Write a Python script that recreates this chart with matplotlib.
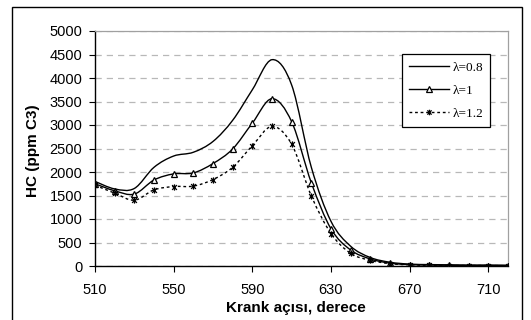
# -*- coding: utf-8 -*-
# hc_krank_acisi.py

import numpy as np
import matplotlib
matplotlib.use('Agg')
import matplotlib.pyplot as plt
from matplotlib.path import Path
from matplotlib.patches import PathPatch, Rectangle
from matplotlib.lines import Line2D


#%% Data

krank = [510, 520, 530, 540, 550, 560, 570, 580, 590, 600, 610,
         620, 630, 640, 650, 660, 670, 680, 690, 700, 710, 720]

hc_lambda_08 = [1800, 1640, 1650, 2100, 2340, 2420, 2650, 3100, 3750, 4390,
                3850, 2100, 950, 420, 180, 80, 40, 30, 25, 20, 20, 15]
hc_lambda_10 = [1750, 1600, 1530, 1830, 1960, 1980, 2180, 2490, 3040, 3560,
                3070, 1770, 790, 340, 150, 60, 30, 20, 15, 10, 10, 10]
hc_lambda_12 = [1720, 1550, 1400, 1620, 1690, 1700, 1840, 2100, 2560, 2970,
                2590, 1490, 690, 270, 120, 50, 25, 15, 10, 10, 10, 5]

labels = ['\u03bb=0.8', '\u03bb=1', '\u03bb=1.2']
x_ticks = [510, 550, 590, 630, 670, 710]
y_ticks = list(range(0, 5001, 500))


#%% Functions

def smooth_path(x, y):
    '''Excel style smoothed line as a cubic Bezier path.'''
    pts = np.column_stack([x, y]).astype(float)
    n = len(pts)
    verts = [pts[0]]
    codes = [Path.MOVETO]
    for i in range(n - 1):
        p0 = pts[i - 1] if i > 0 else pts[i]
        p1 = pts[i]
        p2 = pts[i + 1]
        p3 = pts[i + 2] if i + 2 < n else pts[i + 1]
        c1 = p1 + (p2 - p0) / 6.0
        c2 = p2 - (p3 - p1) / 6.0
        verts += [c1, c2, p2]
        codes += [Path.CURVE4] * 3
    return Path(verts, codes)


star = Path([(-1, -1), (1, 1), (-1, 1), (1, -1), (0, -1.3), (0, 1.3)],
            [Path.MOVETO, Path.LINETO, Path.MOVETO, Path.LINETO,
             Path.MOVETO, Path.LINETO])


#%% Plot

plt.rcParams['font.family'] = 'Liberation Sans'

fig = plt.figure(figsize=(5.31, 3.2), dpi=100)
ax = fig.add_axes([95 / 531, 54 / 320, 413 / 531, 235 / 320])

styles = [
    dict(ls='-', marker=None, mfc='none'),
    dict(ls='-', marker='^', mfc='white'),
    dict(ls=(0, (2, 2)), marker=star, mfc='black'),
]
series = [hc_lambda_08, hc_lambda_10, hc_lambda_12]

handles = []
for vals, st, lab in zip(series, styles, labels):
    ax.add_patch(PathPatch(smooth_path(krank, vals), fill=False,
                           edgecolor='black', lw=1.0, linestyle=st['ls'],
                           zorder=3))
    if st['marker'] is not None:
        ax.plot(krank, vals, ls='none', marker=st['marker'], ms=4.5,
                mfc=st['mfc'], mec='black', mew=0.9, zorder=4)
    handles.append(Line2D([], [], color='black', lw=1.0, ls=st['ls'],
                          marker=st['marker'], ms=4, mfc=st['mfc'],
                          mec='black', mew=0.9))

ax.set_xlim(510, 720)
ax.set_ylim(0, 5000)
ax.set_xticks(x_ticks)
ax.set_yticks(y_ticks)
ax.tick_params(axis='both', labelsize=10.5, length=4, width=0.8,
               direction='out', color='black')
ax.tick_params(axis='x', pad=8)
ax.tick_params(axis='y', pad=5)

ax.grid(axis='y', color='#b8b8b8', linestyle=(0, (5, 4)), lw=0.9)
ax.set_axisbelow(True)
for side in ['top', 'right']:
    ax.spines[side].set_color('#a0a0a0')
    ax.spines[side].set_linewidth(0.9)
for side in ['left', 'bottom']:
    ax.spines[side].set_color('black')
    ax.spines[side].set_linewidth(1.0)

fig.text(33 / 531, 1 - 151 / 320, 'HC (ppm C3)', rotation=90,
         ha='center', va='center', fontsize=11, fontweight='bold')
fig.text(296 / 531, 1 - 308 / 320, 'Krank a\u00e7\u0131s\u0131, derece',
         ha='center', va='center', fontsize=11, fontweight='bold')

leg = ax.legend(handles, labels, loc='upper left',
                bbox_to_anchor=(307 / 413, (266 - 54) / 235 - 0.002),
                prop={'family': 'Liberation Serif', 'size': 9.5},
                frameon=True, fancybox=False, framealpha=1,
                edgecolor='black', handlelength=3.0, handletextpad=0.25,
                borderpad=0.55, labelspacing=0.8, borderaxespad=0)
leg.get_frame().set_linewidth(0.9)

fig.patches.append(Rectangle((12 / 531, -0.05), 510 / 531, 1.05 - 7 / 320,
                             transform=fig.transFigure, fill=False,
                             edgecolor='black', lw=1.0))

plt.savefig('out.png', dpi=100)
